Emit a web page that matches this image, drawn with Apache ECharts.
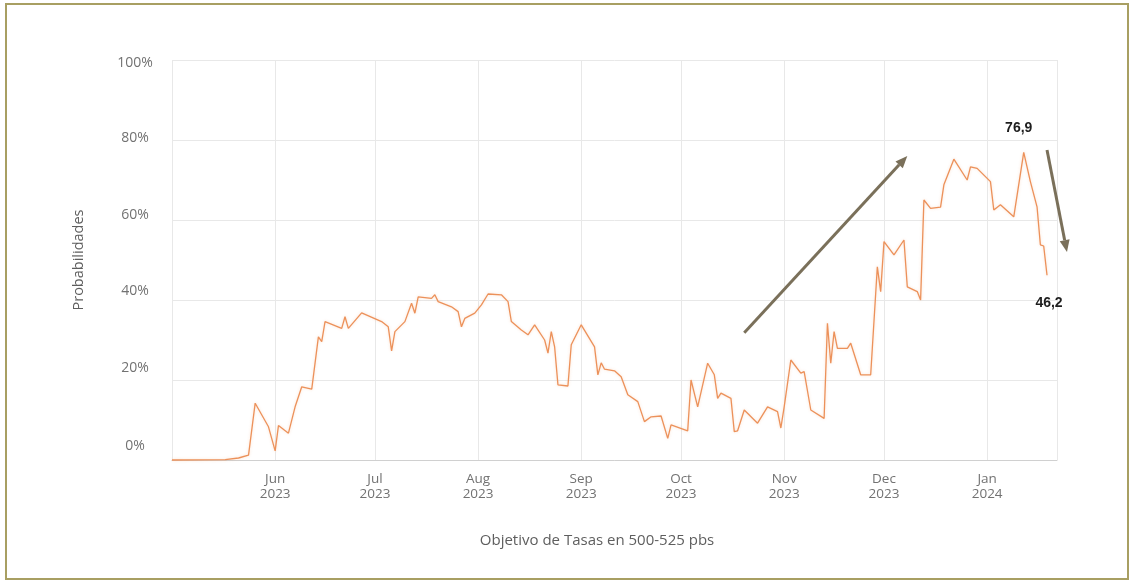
<!DOCTYPE html>
<html>
<head>
<meta charset="utf-8">
<title>Probabilidades</title>
<script src="https://cdn.jsdelivr.net/npm/echarts@6/dist/echarts.min.js"></script>
<style>
  html, body { margin: 0; padding: 0; background: #ffffff; }
  #chart { width: 1134px; height: 584px; }
</style>
</head>
<body>
<div id="chart"></div>
<script>
// Daily probability (%) of the 500-525 bps rate target
const dates = [
  '2023-05-01', '2023-05-17', '2023-05-21', '2023-05-24', '2023-05-26', '2023-05-30',
  '2023-06-01', '2023-06-02', '2023-06-05', '2023-06-07', '2023-06-09', '2023-06-12',
  '2023-06-14', '2023-06-15', '2023-06-16', '2023-06-21', '2023-06-22', '2023-06-23',
  '2023-06-27', '2023-07-03', '2023-07-05', '2023-07-06', '2023-07-07', '2023-07-10',
  '2023-07-12', '2023-07-13', '2023-07-14', '2023-07-18', '2023-07-19', '2023-07-20',
  '2023-07-24', '2023-07-26', '2023-07-27', '2023-07-28', '2023-07-31', '2023-08-02',
  '2023-08-04', '2023-08-08', '2023-08-10', '2023-08-11', '2023-08-14', '2023-08-16',
  '2023-08-18', '2023-08-21', '2023-08-22', '2023-08-23', '2023-08-24', '2023-08-25',
  '2023-08-28', '2023-08-29', '2023-09-01', '2023-09-05', '2023-09-06', '2023-09-07',
  '2023-09-08', '2023-09-11', '2023-09-13', '2023-09-15', '2023-09-18', '2023-09-20',
  '2023-09-22', '2023-09-25', '2023-09-27', '2023-09-28', '2023-10-03', '2023-10-04',
  '2023-10-06', '2023-10-09', '2023-10-11', '2023-10-12', '2023-10-13', '2023-10-16',
  '2023-10-17', '2023-10-18', '2023-10-20', '2023-10-24', '2023-10-27', '2023-10-30',
  '2023-10-31', '2023-11-01', '2023-11-03', '2023-11-06', '2023-11-07', '2023-11-09',
  '2023-11-13', '2023-11-14', '2023-11-15', '2023-11-16', '2023-11-17', '2023-11-20',
  '2023-11-21', '2023-11-24', '2023-11-27', '2023-11-29', '2023-11-30', '2023-12-01',
  '2023-12-04', '2023-12-07', '2023-12-08', '2023-12-11', '2023-12-12', '2023-12-13',
  '2023-12-15', '2023-12-18', '2023-12-19', '2023-12-22', '2023-12-26', '2023-12-27',
  '2023-12-29', '2024-01-02', '2024-01-03', '2024-01-05', '2024-01-09', '2024-01-12',
  '2024-01-14', '2024-01-16', '2024-01-17', '2024-01-18', '2024-01-19'
];
const probs = [
  0.0, 0.1, 0.5, 1.2, 14.2, 8.3,
  2.3, 8.6, 6.7, 13.3, 18.3, 17.7,
  30.8, 29.6, 34.6, 32.9, 35.8, 32.9,
  36.8, 34.6, 33.3, 27.3, 32.1, 34.6,
  39.2, 36.7, 40.8, 40.4, 41.3, 39.6,
  38.3, 37.1, 33.3, 35.4, 36.7, 38.8,
  41.5, 41.3, 39.6, 34.6, 32.5, 31.3,
  33.8, 30.0, 26.7, 32.1, 28.3, 18.8,
  18.5, 28.8, 33.8, 28.3, 21.3, 24.3,
  22.7, 22.3, 20.8, 16.3, 14.6, 9.6,
  10.8, 11.0, 5.4, 8.8, 7.3, 20.0,
  13.3, 24.2, 21.3, 15.4, 16.7, 15.4,
  7.1, 7.3, 12.5, 9.2, 13.3, 12.1,
  8.0, 13.3, 25.0, 21.7, 22.1, 12.5,
  10.4, 34.2, 24.2, 32.1, 27.9, 27.9,
  29.2, 21.3, 21.3, 48.3, 42.1, 54.6,
  51.3, 55.0, 43.3, 42.1, 40.0, 65.0,
  62.9, 63.2, 68.8, 75.2, 70.0, 73.3,
  72.9, 69.6, 62.5, 63.8, 60.8, 76.9,
  69.6, 63.3, 53.8, 53.5, 46.2
];
// Values that carry a printed label (decimal comma)
const labelledDates = ['2024-01-12', '2024-01-19'];
const monthNames = ['Jan', 'Feb', 'Mar', 'Apr', 'May', 'Jun', 'Jul', 'Aug', 'Sep', 'Oct', 'Nov', 'Dec'];
const yTicks = [0, 20, 40, 60, 80, 100];
const xAxisTitle = 'Objetivo de Tasas en 500-525 pbs';
const yAxisTitle = 'Probabilidades';

// Trend arrows, given in data space: [date, value] -> [date, value]
const trendArrows = [
  [['2023-10-20', 31.8], ['2023-12-08', 76.0]],
  [['2024-01-19', 77.5], ['2024-01-25', 52.0]]
];

const DAY = 86400000;
const ts = s => echarts.time.parse(s).getTime();

// The percent labels sit on a slightly tighter ladder than the gridlines:
// vertical nudge (px, positive = up) for each tick value.
const yLabelNudge = { 0: 14, 20: 11.5, 40: 8.5, 60: 5, 80: 2, 100: -3 };
const yRich = {};
yTicks.forEach(v => {
  const s = yLabelNudge[v];
  yRich['t' + v] = {
    color: '#727272',
    fontSize: 14,
    fontFamily: 'Open Sans, sans-serif',
    align: 'center',
    padding: s >= 0 ? [0, 0, 2 * s, 0] : [-2 * s, 0, 0, 0]
  };
});

const seriesData = dates.map((d, i) => {
  const item = { value: [d, probs[i]] };
  const li = labelledDates.indexOf(d);
  if (li >= 0) {
    item.label = {
      show: true,
      formatter: p => p.value[1].toFixed(1).replace('.', ','),
      position: li === 0 ? 'top' : 'bottom',
      distance: li === 0 ? 17 : 21,
      offset: li === 0 ? [-5, 0] : [2, 0],
      color: '#1e1e1e',
      fontWeight: 'bold',
      fontSize: 14,
      fontFamily: 'Liberation Sans, Arial, sans-serif'
    };
  }
  return item;
});

const chart = echarts.init(document.getElementById('chart'), null, { renderer: 'canvas' });

const baseOption = {
  backgroundColor: '#ffffff',
  animation: false,
  grid: { left: 172, right: 77, top: 60, bottom: 124, containLabel: false },
  xAxis: {
    type: 'time',
    min: '2023-05-01',
    max: '2024-01-22',
    splitNumber: 9,
    minInterval: 28 * DAY,
    maxInterval: 31 * DAY,
    axisLine: { show: true, lineStyle: { color: '#d0d0d0', width: 1 } },
    axisTick: { show: false },
    splitLine: { show: true, lineStyle: { color: '#e8e8e8', width: 1 } },
    axisLabel: {
      color: '#727272',
      fontSize: 13.5,
      lineHeight: 15,
      margin: 12,
      fontFamily: 'Open Sans, sans-serif',
      hideOverlap: false,
      formatter: value => {
        const d = new Date(value);
        if (d.getDate() !== 1 || d.getMonth() === 4) return '';
        return monthNames[d.getMonth()] + '\n' + d.getFullYear();
      }
    }
  },
  yAxis: {
    type: 'value',
    min: yTicks[0],
    max: yTicks[yTicks.length - 1],
    interval: 20,
    name: yAxisTitle,
    nameLocation: 'middle',
    nameGap: 86,
    nameTextStyle: { color: '#5e5e5e', fontSize: 14.5, fontFamily: 'Open Sans, sans-serif' },
    axisLine: { show: false },
    axisTick: { show: false },
    splitLine: { show: true, lineStyle: { color: '#e8e8e8', width: 1 } },
    axisLabel: {
      align: 'center',
      margin: 37,
      formatter: v => '{t' + v + '|' + v + '%}',
      rich: yRich
    }
  },
  series: [{
    type: 'line',
    data: seriesData,
    showSymbol: true,
    symbol: 'circle',
    symbolSize: 0,
    clip: false,
    lineStyle: { color: '#ec915a', width: 1.3, shadowColor: 'rgba(240,150,90,0.3)', shadowBlur: 3 },
    itemStyle: { color: '#ec915a' },
    z: 3
  }]
};

chart.setOption(baseOption);

// Frame, x-axis title and trend arrows
function buildGraphics() {
  const elements = [
    {
      type: 'rect',
      shape: { x: 6, y: 4, width: 1122, height: 575 },
      style: { fill: 'none', stroke: '#a89f62', lineWidth: 2 },
      silent: true
    },
    {
      type: 'text',
      x: 597, y: 541,
      style: {
        text: xAxisTitle,
        fill: '#5e5e5e',
        fontSize: 15,
        fontFamily: 'Open Sans, sans-serif',
        align: 'center',
        verticalAlign: 'middle'
      }
    }
  ];
  trendArrows.forEach(([a, b]) => {
    const p0 = chart.convertToPixel({ gridIndex: 0 }, [ts(a[0]), a[1]]);
    const p1 = chart.convertToPixel({ gridIndex: 0 }, [ts(b[0]), b[1]]);
    const ang = Math.atan2(p1[1] - p0[1], p1[0] - p0[0]);
    const headLen = 12, headHalf = 5;
    const bx = p1[0] - headLen * Math.cos(ang);
    const by = p1[1] - headLen * Math.sin(ang);
    const nx = -Math.sin(ang), ny = Math.cos(ang);
    elements.push({
      type: 'line',
      shape: { x1: p0[0], y1: p0[1], x2: bx, y2: by },
      style: { stroke: '#7a705a', lineWidth: 3 },
      z: 10
    });
    elements.push({
      type: 'polygon',
      shape: { points: [[p1[0], p1[1]], [bx + nx * headHalf, by + ny * headHalf], [bx - nx * headHalf, by - ny * headHalf]] },
      style: { fill: '#7a705a' },
      z: 10
    });
  });
  return elements;
}

chart.setOption({ graphic: { elements: buildGraphics() } });
</script>
</body>
</html>
